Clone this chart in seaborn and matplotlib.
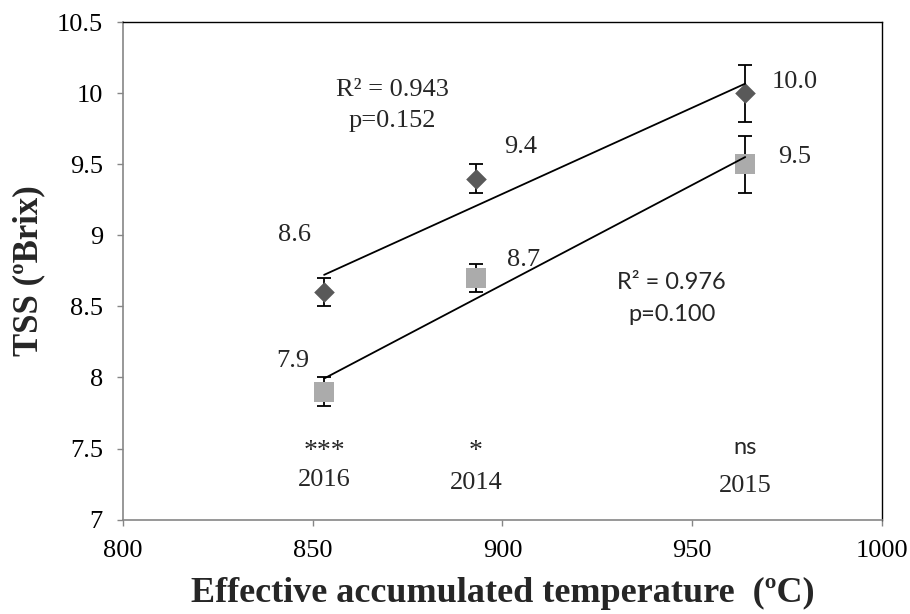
import numpy as np
import pandas as pd
import matplotlib
matplotlib.use("Agg")
import matplotlib.pyplot as plt
import seaborn as sns

# Effective accumulated temperature (ºC) per season
temp = [853, 893, 964]
years = ["2016", "2014", "2015"]
signif = ["***", "*", "ns"]

# TSS (ºBrix) means and error for the two series
tss_dark = [8.6, 9.4, 10.0]
err_dark = [0.1, 0.1, 0.2]
tss_light = [7.9, 8.7, 9.5]
err_light = [0.1, 0.1, 0.2]

fit_dark = ("R² = 0.943", "p=0.152")
fit_light = ("R² = 0.976", "p=0.100")

df = pd.DataFrame({"temp": temp, "dark": tss_dark, "light": tss_light})

sns.set_style("white")
serif = ["Liberation Serif", "DejaVu Serif"]
sans = ["Lato", "DejaVu Sans"]
plt.rcParams["font.family"] = serif

fig = plt.figure(figsize=(9.1, 6.14), dpi=100)
ax = fig.add_axes([0.1352, 0.1539, 0.969 - 0.1352, 0.9634 - 0.1539])

dark_col = "#595959"
light_col = "#ABABAB"

# error bars
ax.errorbar(temp, tss_dark, yerr=err_dark, fmt="none", ecolor="black",
            elinewidth=1.3, capsize=4.7, capthick=1.3, zorder=2)
ax.errorbar(temp, tss_light, yerr=err_light, fmt="none", ecolor="black",
            elinewidth=1.3, capsize=4.7, capthick=1.3, zorder=2)

# markers
sns.scatterplot(data=df, x="temp", y="dark", marker="D", s=10.5 ** 2,
                color=dark_col, edgecolor=dark_col, linewidth=0, ax=ax, zorder=3)
sns.scatterplot(data=df, x="temp", y="light", marker="s", s=14.5 ** 2,
                color=light_col, edgecolor=light_col, linewidth=0, ax=ax, zorder=3)

# linear trend lines
sns.regplot(data=df, x="temp", y="dark", scatter=False, ci=None, ax=ax,
            line_kws={"color": "black", "lw": 1.3, "zorder": 4})
sns.regplot(data=df, x="temp", y="light", scatter=False, ci=None, ax=ax,
            line_kws={"color": "black", "lw": 1.3, "zorder": 4})

ax.set_xlim(800, 1000)
ax.set_ylim(7, 10.5)
ax.set_xticks([800, 850, 900, 950, 1000])
ax.set_yticks([7, 7.5, 8, 8.5, 9, 9.5, 10, 10.5])
ax.set_yticklabels(["7", "7.5", "8", "8.5", "9", "9.5", "10", "10.5"])

for side in ["top", "right"]:
    ax.spines[side].set_color("black")
    ax.spines[side].set_linewidth(1.0)
for side in ["left", "bottom"]:
    ax.spines[side].set_color("#868686")
    ax.spines[side].set_linewidth(1.2)

ax.tick_params(axis="both", direction="out", length=4.5, width=1.0,
               color="#868686", labelsize=19, labelcolor="black")
ax.tick_params(axis="x", pad=10)
ax.tick_params(axis="y", pad=10)
ax.tick_params(left=True, bottom=True)

ax.set_xlabel("Effective accumulated temperature  (ºC)", fontsize=26,
              fontweight="bold", labelpad=11)
ax.set_ylabel("TSS (ºBrix)", fontsize=25, fontweight="bold", labelpad=8)

# value labels
lab_fs = 19
dark_pos = [(845.3, 8.959), (904.7, 9.581), (977.0, 10.037)]
light_pos = [(844.7, 8.075), (905.5, 8.786), (977.0, 9.512)]
for (x, y), v in zip(dark_pos, tss_dark):
    ax.text(x, y, f"{v:.1f}", ha="center", va="baseline", fontsize=lab_fs)
for (x, y), v in zip(light_pos, tss_light):
    ax.text(x, y, f"{v:.1f}", ha="center", va="baseline", fontsize=lab_fs)

# regression statistics
ax.text(870.9, 9.982, fit_dark[0], ha="center", va="baseline", fontsize=lab_fs)
ax.text(870.9, 9.766, fit_dark[1], ha="center", va="baseline", fontsize=lab_fs)
ax.text(944.6, 8.62, fit_light[0], ha="center", va="baseline", fontsize=17,
        family=sans)
ax.text(944.6, 8.398, fit_light[1], ha="center", va="baseline", fontsize=17,
        family=sans)

# significance and season labels
sig_y = [7.43, 7.43, 7.46]
for x, s, y in zip(temp, signif, sig_y):
    fam = sans if s == "ns" else serif
    ax.text(x, y, s, ha="center", va="baseline",
            fontsize=17 if s == "ns" else 20, family=fam)
year_y = [7.233, 7.215, 7.193]
for x, yr, y in zip(temp, years, year_y):
    ax.text(x, y, yr, ha="center", va="baseline", fontsize=lab_fs)

fig.savefig("out.png", dpi=100, facecolor="white")
